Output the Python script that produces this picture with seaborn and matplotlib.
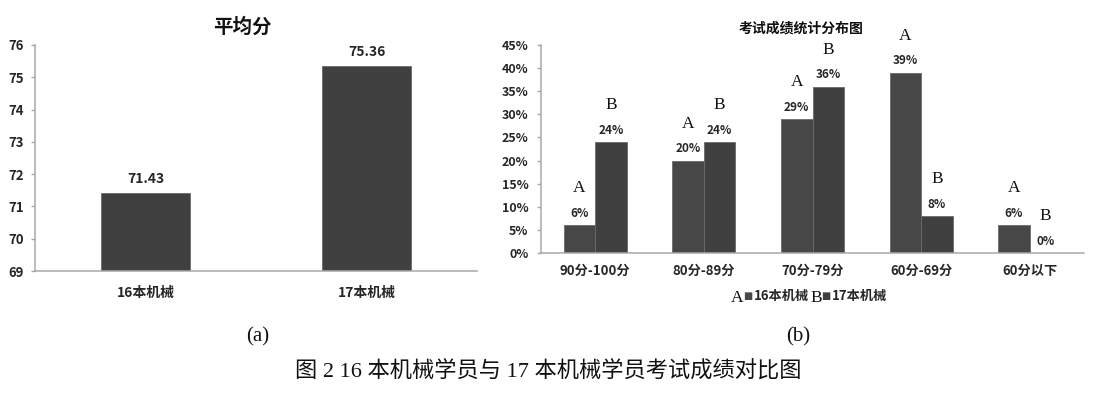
import matplotlib
matplotlib.use('Agg')
import matplotlib.pyplot as plt
from matplotlib.ticker import FixedLocator, NullFormatter, FuncFormatter
import seaborn as sns
import pandas as pd

# (a) average score
teams = ['16本机械', '17本机械']
avg_scores = [71.43, 75.36]

# (b) score distribution, percent
score_ranges = ['90分-100分', '80分-89分', '70分-79分', '60分-69分', '60分以下']
pct_16 = [6, 20, 29, 39, 6]
pct_17 = [24, 24, 36, 8, 0]
group_letters = ['A', 'B']
group_names = ['16本机械', '17本机械']

sns.set_style('white')
plt.rcParams['font.family'] = ['Noto Sans CJK SC', 'DejaVu Sans']
plt.rcParams['axes.unicode_minus'] = False

bar_a = '#474747'
bar_b = '#404040'
axis_grey = '#a8a8a8'
text_col = '#262626'
serif = ['Liberation Serif', 'Noto Sans CJK SC']

fig = plt.figure(figsize=(11, 3.93), dpi=100)
ax1 = fig.add_axes([0.0318, 0.3104, 0.4018, 0.5751])
ax2 = fig.add_axes([0.4918, 0.3562, 0.4937, 0.5293])


def style_axis(ax, n):
    for side in ['top', 'right']:
        ax.spines[side].set_visible(False)
    for side in ['left', 'bottom']:
        ax.spines[side].set_color(axis_grey)
        ax.spines[side].set_linewidth(1.1)
    ax.set_xlim(-0.5, n - 0.5)
    ax.xaxis.set_minor_locator(FixedLocator([i - 0.5 for i in range(n + 1)]))
    ax.xaxis.set_minor_formatter(NullFormatter())
    ax.tick_params(axis='x', which='major', length=0)
    ax.tick_params(axis='x', which='minor', length=3, width=1, color=axis_grey, direction='out')
    ax.tick_params(axis='y', length=3, width=1, color=axis_grey, direction='out',
                   left=True)
    ax.set_xlabel('')
    ax.set_ylabel('')


# ---- left chart
sns.barplot(x=teams, y=avg_scores, ax=ax1, color=bar_b, width=0.4, saturation=1,
            edgecolor='#6a6a6a', linewidth=0.6)
style_axis(ax1, len(teams))
ax1.set_ylim(69, 76)
ax1.set_yticks(range(69, 77))
ax1.tick_params(axis='y', pad=5, labelsize=9.5, labelcolor=text_col)
ax1.tick_params(axis='x', pad=11, labelsize=10, labelcolor=text_col)
for lab in ax1.get_xticklabels() + ax1.get_yticklabels():
    lab.set_fontweight('bold')
for bar, v in zip(ax1.containers[0], avg_scores):
    ax1.annotate(f'{v:.2f}', (bar.get_x() + bar.get_width() / 2, v),
                 xytext=(0, 9.5), textcoords='offset points', ha='center', va='center',
                 fontsize=10, fontweight='bold', color=text_col)
fig.text(242 / 1100, 1 - 27 / 393, '平均分', ha='center', va='center',
         fontsize=14, fontweight='bold', color='#111111')

# ---- right chart
df = pd.DataFrame({
    'range': score_ranges * 2,
    'group': [group_letters[0]] * len(score_ranges) + [group_letters[1]] * len(score_ranges),
    'pct': pct_16 + pct_17,
})
sns.barplot(data=df, x='range', y='pct', hue='group', palette=[bar_a, bar_b],
            width=0.58, saturation=1, legend=False, ax=ax2,
            edgecolor='#6a6a6a', linewidth=0.6)
style_axis(ax2, len(score_ranges))
ax2.set_ylim(0, 45)
ax2.set_yticks(range(0, 46, 5))
ax2.yaxis.set_major_formatter(FuncFormatter(lambda v, p: f'{v:.0f}%'))
ax2.tick_params(axis='y', pad=6, labelsize=9, labelcolor=text_col)
ax2.tick_params(axis='x', pad=8, labelsize=9.5, labelcolor=text_col)
for lab in ax2.get_xticklabels() + ax2.get_yticklabels():
    lab.set_fontweight('bold')
for cont, letter, vals in zip(ax2.containers, group_letters, [pct_16, pct_17]):
    for bar, v in zip(cont, vals):
        cx = bar.get_x() + bar.get_width() / 2
        ax2.annotate(f'{v}%', (cx, v), xytext=(0, 8.6), textcoords='offset points',
                     ha='center', va='center', fontsize=8.5, fontweight='bold', color=text_col)
        ax2.annotate(letter, (cx, v), xytext=(0, 26.5), textcoords='offset points',
                     ha='center', va='center', fontsize=12.5, family=serif, color='#111111')
fig.text(801 / 1100, 1 - 28 / 393, '考试成绩统计分布图', ha='center', va='center',
         fontsize=10, fontweight='bold', color='#111111')

# legend built from text pieces
ly = 1 - 296 / 393
fig.text(737 / 1100, 1 - 298 / 393, group_letters[0], ha='center', va='center',
         fontsize=12.5, family=serif, color='#111111')
fig.text(748 / 1100, ly, '■', ha='center', va='center', fontsize=7, color=bar_a,
         family=['DejaVu Sans'])
fig.text(754 / 1100, ly, group_names[0], ha='left', va='center', fontsize=9.5,
         fontweight='bold', color=text_col)
fig.text(816 / 1100, 1 - 298 / 393, group_letters[1], ha='center', va='center',
         fontsize=12.5, family=serif, color='#111111')
fig.text(826 / 1100, ly, '■', ha='center', va='center', fontsize=7, color=bar_b,
         family=['DejaVu Sans'])
fig.text(832 / 1100, ly, group_names[1], ha='left', va='center', fontsize=9.5,
         fontweight='bold', color=text_col)

# captions
fig.text(258 / 1100, 1 - 337 / 393, '(a)', ha='center', va='center', fontsize=15,
         family=serif, color='#111111')
fig.text(798 / 1100, 1 - 337 / 393, '(b)', ha='center', va='center', fontsize=15,
         family=serif, color='#111111')
fig.text(548 / 1100, 1 - 372 / 393, '图 2 16 本机械学员与 17 本机械学员考试成绩对比图',
         ha='center', va='center', fontsize=16, family=serif, color='#111111')

fig.savefig('out.png', dpi=100)
